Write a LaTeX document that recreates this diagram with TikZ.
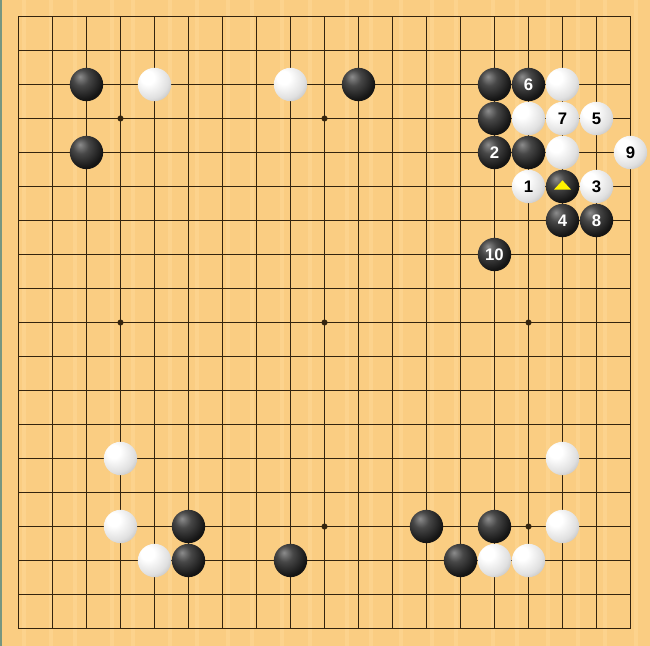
\documentclass[tikz,border=0pt]{standalone}
\usepackage{fontspec}
\setsansfont{Liberation Sans}
\definecolor{boardwood}{RGB}{250,205,130}
\definecolor{woodgrain}{RGB}{252,211,141}
\definecolor{gridline}{RGB}{52,36,14}
\definecolor{edgegreen}{RGB}{118,150,128}
\pgfdeclareradialshading{blackstone}{\pgfpoint{-10bp}{12bp}}{color(0bp)=(black!45); color(12bp)=(black!72); color(30bp)=(black!92); color(75bp)=(black)}
\pgfdeclareradialshading{whitestone}{\pgfpoint{-12bp}{12bp}}{color(0bp)=(white); color(10bp)=(white); color(28bp)=(black!12); color(45bp)=(black!35); color(75bp)=(black!60)}
\newcommand{\numfont}{\fontsize{14}{14}\selectfont\sffamily\bfseries}
\tikzset{
  bstone/.style={shading=blackstone},
  wstone/.style={shading=whitestone},
  onblack/.style={text=white, font=\numfont, inner sep=0pt},
  onwhite/.style={text=black, font=\numfont, inner sep=0pt},
}
\begin{document}
\begin{tikzpicture}[x=1cm, y=-1cm]
            \useasboundingbox (-0.5441,-0.4853) rectangle (18.5735,18.5147);
            \fill[boardwood] (-0.5441,-0.4853) rectangle (18.5735,18.5147);
            \foreach \g in {0.1,0.9,1.6,2.7,3.3,4.4,5.2,6.1,6.8,7.7,8.5,9.6,10.3,11.2,12.1,12.8,13.9,14.6,15.5,16.4,17.2,18.1}
                \fill[woodgrain] (\g,-0.4853) rectangle (\g+0.12,18.5147);
            \fill[edgegreen] (-0.5441,-0.4853) rectangle (-0.4853,18.5147);
            \draw[gridline, line width=0.84pt] (0,0) grid (18,18);
            \draw[gridline, line width=1.5pt] (0,0) rectangle (18,18);
            \foreach \x in {3,9,15}
                \foreach \y in {3,9,15}
                    \fill[gridline] (\x,\y) circle (0.09);

            % upper side
            \shade[bstone] (2,2) circle (0.49);
            \shade[wstone] (4,2) circle (0.49);
            \shade[wstone] (8,2) circle (0.49);
            \shade[bstone] (10,2) circle (0.49);
            \shade[bstone] (2,4) circle (0.49);

            % upper right corner
            \shade[bstone] (14,2) circle (0.49);
            \shade[bstone] (15,2) circle (0.49);
            \shade[wstone] (16,2) circle (0.49);
            \shade[bstone] (14,3) circle (0.49);
            \shade[wstone] (15,3) circle (0.49);
            \shade[wstone] (16,3) circle (0.49);
            \shade[wstone] (17,3) circle (0.49);
            \shade[bstone] (14,4) circle (0.49);
            \shade[bstone] (15,4) circle (0.49);
            \shade[wstone] (16,4) circle (0.49);
            \shade[wstone] (18,4) circle (0.49);
            \shade[wstone] (15,5) circle (0.49);
            \shade[bstone] (16,5) circle (0.49);
            \shade[wstone] (17,5) circle (0.49);
            \shade[bstone] (16,6) circle (0.49);
            \shade[bstone] (17,6) circle (0.49);
            \shade[bstone] (14,7) circle (0.49);
            \fill[yellow] (15.75,5.09) -- (16.25,5.09) -- (16,4.82) -- cycle;

            % lower side
            \shade[wstone] (3,13) circle (0.49);
            \shade[wstone] (16,13) circle (0.49);
            \shade[wstone] (3,15) circle (0.49);
            \shade[bstone] (5,15) circle (0.49);
            \shade[bstone] (12,15) circle (0.49);
            \shade[bstone] (14,15) circle (0.49);
            \shade[wstone] (16,15) circle (0.49);
            \shade[wstone] (4,16) circle (0.49);
            \shade[bstone] (5,16) circle (0.49);
            \shade[bstone] (8,16) circle (0.49);
            \shade[bstone] (13,16) circle (0.49);
            \shade[wstone] (14,16) circle (0.49);
            \shade[wstone] (15,16) circle (0.49);

            % move numbers
            \node[onwhite] (m1) at (15,5) {1};
            \node[onblack] (m2) at (14,4) {2};
            \node[onwhite] (m3) at (17,5) {3};
            \node[onblack] (m4) at (16,6) {4};
            \node[onwhite] (m5) at (17,3) {5};
            \node[onblack] (m6) at (15,2) {6};
            \node[onwhite] (m7) at (16,3) {7};
            \node[onblack] (m8) at (17,6) {8};
            \node[onwhite] (m9) at (18,4) {9};
            \node[onblack] (m10) at (14,7) {10};
\end{tikzpicture}
\end{document}
